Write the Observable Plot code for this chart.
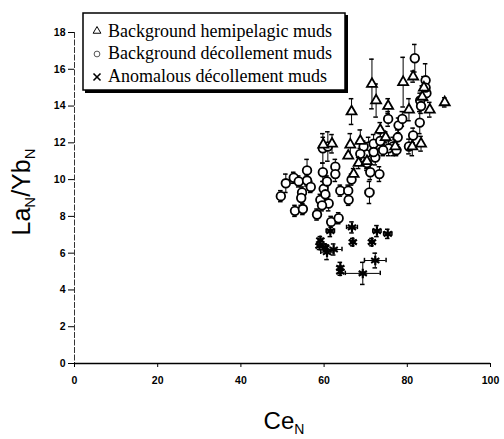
<!DOCTYPE html>
<html>
<head>
<meta charset="utf-8">
<script src="https://cdn.jsdelivr.net/npm/d3@7"></script>
<script src="https://cdn.jsdelivr.net/npm/@observablehq/plot@0.6"></script>
<style>
  html, body { margin: 0; padding: 0; background: #fff; }
  #chart svg { display: block; }
</style>
</head>
<body>
<div id="chart"></div>
<script>
// ---- Data ----
const seriesNames = ["Background hemipelagic muds", "Background décollement muds", "Anomalous décollement muds"];
const xTicks = [0, 20, 40, 60, 80, 100];
const yTicks = [0, 2, 4, 6, 8, 10, 12, 14, 16, 18];

// Background hemipelagic muds (triangles)
const hemiX   = [71.5, 79.0, 81.4, 66.6, 72.5, 75.4, 89.0, 85.4, 80.4, 66.3, 61.9, 68.7, 73.5, 68.3, 67.1, 81.2, 83.3, 84.0, 83.6, 65.8, 77.1, 70.3, 59.8, 74.8];
const hemiY   = [15.2, 15.3, 15.6, 13.7, 14.3, 14.0, 14.2, 13.8, 13.8, 11.9, 11.95, 12.1, 12.7, 10.9, 10.3, 11.8, 11.95, 15.0, 14.5, 11.3, 11.8, 11.0, 11.9, 12.3];
const hemiErr = [1.35, 1.35, 0.3, 0.7, 0.9, 0.4, 0.25, 0.4, 0.6, 0.6, 0.5, 0.6, 0.4, 0.3, 0.3, 0.5, 0.4, 0.6, 0.6, 0.1, 0.4, 0.4, 0.4, 0.3];

// Background décollement muds (circles)
const decX   = [49.6, 50.8, 52.7, 53.0, 53.9, 54.7, 54.5, 54.9, 55.9, 55.9, 56.8, 58.3, 59.1, 59.7, 59.7, 60.9, 59.9, 61.1, 59.5, 60.3, 60.7, 62.7, 62.7, 61.7, 63.5, 63.9, 65.8, 65.9, 66.6, 70.9, 71.1, 70.3, 70.7, 70.0, 71.9, 72.3, 73.3, 73.5, 71.9, 75.4, 76.6, 75.5, 77.7, 77.9, 78.8, 77.4, 80.4, 81.4, 83.0, 81.8, 84.4, 84.6, 83.1, 83.3, 84.4, 69.5, 68.7, 74.2];
const decY   = [9.1, 9.8, 10.1, 8.3, 9.9, 9.3, 9.0, 8.4, 10.5, 9.95, 9.6, 8.1, 8.9, 10.4, 11.7, 11.8, 9.5, 8.7, 8.6, 9.2, 9.9, 10.7, 10.3, 7.7, 7.9, 9.4, 9.4, 8.9, 10.0, 9.3, 10.4, 10.9, 11.8, 11.4, 11.95, 11.2, 10.3, 12.1, 11.5, 13.3, 11.8, 11.7, 12.3, 12.95, 13.3, 11.6, 11.8, 12.4, 13.1, 16.6, 15.4, 14.7, 14.3, 14.0, 15.0, 11.8, 11.4, 11.6];
const decErr = [0.3, 0.5, 0.3, 0.3, 0.3, 0.3, 0.4, 0.3, 0.6, 0.3, 0.3, 0.3, 0.3, 0.5, 0.8, 0.8, 0.4, 0.4, 0.3, 0.3, 0.3, 0.4, 0.4, 0.3, 0.3, 0.3, 0.3, 0.3, 0.3, 0.6, 0.4, 0.4, 0.5, 0.4, 0.5, 0.4, 0.4, 0.4, 0.3, 0.4, 0.5, 0.4, 0.4, 0.4, 0.4, 0.3, 0.4, 0.4, 0.6, 0.75, 0.9, 0.4, 0.4, 0.4, 0.5, 0.3, 0.3, 0.3];

// Anomalous décollement muds (asterisks)
const anomX    = [59.1, 58.9, 60.7, 62.3, 61.5, 66.7, 66.9, 71.5, 72.7, 75.3, 72.3, 63.9, 63.9, 69.3, 60.3];
const anomY    = [6.7, 6.4, 6.05, 6.2, 7.2, 7.4, 6.6, 6.6, 7.2, 7.05, 5.6, 5.2, 5.0, 4.9, 6.3];
const anomErr  = [0.2, 0.2, 0.4, 0.3, 0.3, 0.3, 0.2, 0.2, 0.3, 0.25, 0.4, 0.3, 0.2, 0.6, 0.2];
const anomXErr = [0.5, 0.5, 1.5, 2.0, 1.0, 1.3, 0.5, 0.5, 1.0, 1.0, 2.6, 0.3, 0.3, 4.2, 0.5];

// ---- Build tables ----
const hemi = hemiX.map((x, i) => ({x, y: hemiY[i], e: hemiErr[i], ex: 0}));
const dec  = decX.map((x, i) => ({x, y: decY[i], e: decErr[i], ex: i === 29 ? 1.0 : 0}));
const anom = anomX.map((x, i) => ({x, y: anomY[i], e: anomErr[i], ex: anomXErr[i]}));
const all = [...hemi, ...dec, ...anom];
const capW = 0.55;

const W = 504, H = 439;
const plot = Plot.plot({
  width: W,
  height: H,
  marginLeft: 74,
  marginRight: 14,
  marginTop: 32,
  marginBottom: 76,
  style: {fontFamily: "'Liberation Sans', Arial, sans-serif", fontSize: "10.5px", background: "#fff", color: "#000"},
  x: {domain: [0, 100], ticks: xTicks, label: null},
  y: {domain: [0, 18], ticks: yTicks, label: null},
  marks: [
    // axes
    Plot.ruleX([0], {stroke: "#333", strokeWidth: 1, strokeDasharray: "6,1.5"}),
    Plot.ruleY([0], {stroke: "#000", strokeWidth: 1.6}),
    Plot.axisY({ticks: yTicks, tickSize: 6, tickPadding: 3, tickFormat: d => d, fontSize: 10.5, fontWeight: "bold"}),
    Plot.axisX({ticks: xTicks, tickSize: 4, tickPadding: 9, tickFormat: d => d, fontSize: 10.5, fontWeight: "bold"}),
    // vertical error bars
    Plot.ruleX(all, {x: "x", y1: d => d.y - d.e, y2: d => d.y + d.e, stroke: "#000", strokeWidth: 1}),
    Plot.ruleY(all, {y: d => d.y + d.e, x1: d => d.x - capW, x2: d => d.x + capW, stroke: "#000", strokeWidth: 1.5}),
    Plot.ruleY(all, {y: d => d.y - d.e, x1: d => d.x - capW, x2: d => d.x + capW, stroke: "#000", strokeWidth: 1.5}),
    // horizontal error bars
    Plot.ruleY(all.filter(d => d.ex > 0), {y: "y", x1: d => d.x - d.ex, x2: d => d.x + d.ex, stroke: "#000", strokeWidth: 1}),
    Plot.ruleX(all.filter(d => d.ex > 0), {x: d => d.x - d.ex, y1: d => d.y - 0.12, y2: d => d.y + 0.12, stroke: "#000", strokeWidth: 1.5}),
    Plot.ruleX(all.filter(d => d.ex > 0), {x: d => d.x + d.ex, y1: d => d.y - 0.12, y2: d => d.y + 0.12, stroke: "#000", strokeWidth: 1.5}),
    // symbols
    Plot.dot(dec, {x: "x", y: "y", symbol: "circle", r: 4.3, fill: "#fff", stroke: "#000", strokeWidth: 1.8}),
    Plot.dot(hemi, {x: "x", y: "y", symbol: "triangle", r: 3.7, fill: "#fff", stroke: "#000", strokeWidth: 1.8}),
    Plot.dot(anom, {x: "x", y: "y", symbol: "asterisk", r: 4.5, fill: "#000", stroke: "#000", strokeWidth: 2.2})
  ]
});

document.getElementById("chart").appendChild(plot);

// ---- Axis titles and legend (text annotations) ----
const svg = d3.select(plot);
const ylab = svg.append("text")
  .attr("transform", "translate(30,192) rotate(-90)")
  .attr("text-anchor", "middle")
  .attr("font-family", "'Liberation Sans', Arial, sans-serif")
  .attr("font-size", 25)
  .attr("fill", "#000");
ylab.append("tspan").text("La");
ylab.append("tspan").attr("font-size", 15).attr("dy", 5).text("N");
ylab.append("tspan").attr("dy", -5).text("/Yb");
ylab.append("tspan").attr("font-size", 15).attr("dy", 5).text("N");

const xlab = svg.append("text")
  .attr("x", 284).attr("y", 429)
  .attr("text-anchor", "middle")
  .attr("font-family", "'Liberation Sans', Arial, sans-serif")
  .attr("font-size", 24)
  .attr("fill", "#000");
xlab.append("tspan").text("Ce");
xlab.append("tspan").attr("font-size", 14).attr("dy", 5).text("N");

// legend
const lg = svg.append("g").attr("text-anchor", "start");
lg.append("rect").attr("x", 85).attr("y", 15).attr("width", 263).attr("height", 78).attr("fill", "#000");
lg.append("rect").attr("x", 83).attr("y", 13).attr("width", 262).attr("height", 77)
  .attr("fill", "#fff").attr("stroke", "#000").attr("stroke-width", 1.5);
const lgY = [31, 53, 76];
const sym = [d3.symbolTriangle, d3.symbolCircle, d3.symbolTimes];
seriesNames.forEach((name, i) => {
  lg.append("path")
    .attr("d", d3.symbol(sym[i], i === 2 ? 34 : 26)())
    .attr("transform", `translate(97,${lgY[i] + (i === 0 ? 0 : 1)})`)
    .attr("fill", i === 2 ? "none" : "#fff")
    .attr("stroke", i === 1 ? "#555" : "#000")
    .attr("stroke-width", i === 2 ? 1.6 : 1);
  lg.append("text")
    .attr("x", 108).attr("y", lgY[i] + 6)
    .attr("text-anchor", "start")
    .attr("font-family", "'Liberation Serif', 'Times New Roman', serif")
    .attr("font-size", 18)
    .attr("fill", "#000")
    .text(name);
});
</script>
</body>
</html>
